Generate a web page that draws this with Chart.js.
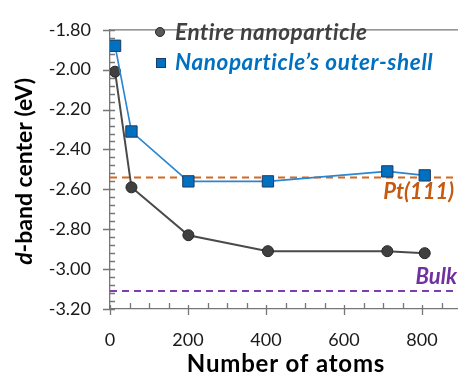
<!DOCTYPE html>
<html>
<head>
<meta charset="utf-8">
<script src="https://cdn.jsdelivr.net/npm/chart.js@4.4.1/dist/chart.umd.min.js"></script>
<style>
  html, body { margin: 0; padding: 0; background: #fff; overflow: hidden; }
  #wrap { width: 458px; height: 376px; overflow: hidden; }
</style>
</head>
<body>
<div id="wrap"><canvas id="dband" width="470" height="376"></canvas></div>
<script>
// cluster sizes and d-band centres (eV)
const atoms = [13, 55, 201, 405, 711, 807];
const entireNP = [-2.01, -2.59, -2.83, -2.91, -2.91, -2.92];
const outerShell = [-1.88, -2.31, -2.56, -2.56, -2.51, -2.53];
const pt111 = -2.54;
const bulk = -3.11;
const xTicks = [0, 200, 400, 600, 800];
const yTicks = [-3.2, -3.0, -2.8, -2.6, -2.4, -2.2, -2.0, -1.8];

const FONT = 'Lato, "Open Sans", sans-serif';
const axisColor = '#767676';
const grey = '#404040';
const blue = '#0070C0';
const orange = '#C55A11';
const purple = '#7030A0';

const pts = ys => atoms.map((a, i) => ({ x: a, y: ys[i] }));
const hline = y => [{ x: 0, y: y }, { x: 900, y: y }];

// tick marks, frame, legend, reference labels and axis titles
const decor = {
  id: 'decor',
  beforeDatasetsDraw(chart) {
    const { ctx, chartArea: a, scales: { x, y } } = chart;
    ctx.save();
    ctx.strokeStyle = axisColor;
    ctx.lineWidth = 1.3;
    ctx.beginPath();
    ctx.moveTo(a.left, a.top); ctx.lineTo(a.right + 10, a.top);
    for (let v = 0; v <= 900; v += 50) {
      const px = Math.round(x.getPixelForValue(v)) + 0.5;
      if (v % 200 === 0) { ctx.moveTo(px, a.bottom - 4); ctx.lineTo(px, a.bottom + 6); }
      else { ctx.moveTo(px, a.bottom - 6); ctx.lineTo(px, a.bottom); }
    }
    for (let k = 0; k <= 35; k++) {
      const v = -3.2 + k * 0.04;
      const py = Math.round(y.getPixelForValue(v)) + 0.5;
      if (k % 5 === 0) { ctx.moveTo(a.left - 7, py); ctx.lineTo(a.left + 5, py); }
      else { ctx.moveTo(a.left, py); ctx.lineTo(a.left + 5, py); }
    }
    ctx.stroke();
    ctx.restore();
  },
  afterDraw(chart) {
    const { ctx, chartArea: a } = chart;
    ctx.save();
    // legend
    ctx.font = `italic bold 22.5px ${FONT}`;
    ctx.letterSpacing = '0.6px';
    ctx.textBaseline = 'middle';
    ctx.textAlign = 'left';
    ctx.fillStyle = '#595959';
    ctx.strokeStyle = '#262626';
    ctx.lineWidth = 1;
    ctx.beginPath(); ctx.arc(160, 32, 4.5, 0, Math.PI * 2); ctx.fill(); ctx.stroke();
    ctx.fillStyle = grey;
    ctx.fillText('Entire nanoparticle', 175, 33);
    ctx.fillStyle = blue;
    ctx.strokeStyle = '#1F3A60';
    ctx.fillRect(156.5, 58.5, 9, 9); ctx.strokeRect(156.5, 58.5, 9, 9);
    ctx.fillText('Nanoparticle\u2019s outer-shell', 175, 63);
    // reference labels
    ctx.letterSpacing = '0px';
    ctx.font = `italic bold 22px ${FONT}`;
    ctx.textAlign = 'right';
    ctx.fillStyle = orange;
    ctx.fillText('Pt(111)', 454, 192);
    ctx.fillStyle = purple;
    ctx.fillText('Bulk', 457, 277);
    // x title
    ctx.fillStyle = '#000';
    ctx.textAlign = 'center';
    ctx.font = `bold 24px ${FONT}`;
    ctx.letterSpacing = '0.8px';
    ctx.fillText('Number of atoms', 286, 364);
    ctx.letterSpacing = '0px';
    // y title with italic d
    ctx.translate(25, (a.top + a.bottom) / 2 + 2);
    ctx.rotate(-Math.PI / 2);
    const fI = `italic bold 23px ${FONT}`, fB = `bold 23px ${FONT}`;
    ctx.font = fI; const w1 = ctx.measureText('d').width;
    ctx.font = fB; const w2 = ctx.measureText('-band center (eV)').width;
    ctx.textAlign = 'left';
    ctx.font = fI; ctx.fillText('d', -(w1 + w2) / 2, 0);
    ctx.font = fB; ctx.fillText('-band center (eV)', -(w1 + w2) / 2 + w1, 0);
    ctx.restore();
  }
};

new Chart(document.getElementById('dband'), {
  type: 'line',
  data: {
    datasets: [
      {
        label: 'Entire nanoparticle',
        data: pts(entireNP),
        borderColor: '#4a4a4a',
        borderWidth: 2,
        backgroundColor: grey,
        pointBackgroundColor: grey,
        pointBorderColor: '#262626',
        pointBorderWidth: 1,
        pointRadius: 5.5,
        pointStyle: 'circle',
        order: 1
      },
      {
        label: 'Nanoparticle\u2019s outer-shell',
        data: pts(outerShell),
        borderColor: '#2a86d0',
        borderWidth: 1.6,
        backgroundColor: blue,
        pointBackgroundColor: blue,
        pointBorderColor: '#1F3A60',
        pointBorderWidth: 1,
        pointRadius: 8,
        pointStyle: 'rect',
        order: 0
      },
      {
        label: 'Pt(111)',
        data: hline(pt111),
        borderColor: '#D2691E',
        borderWidth: 2,
        borderDash: [7, 5],
        pointRadius: 0,
        order: 5
      },
      {
        label: 'Bulk',
        data: hline(bulk),
        borderColor: '#7B3FB0',
        borderWidth: 2,
        borderDash: [7, 5],
        pointRadius: 0,
        order: 5
      }
    ]
  },
  options: {
    responsive: false,
    animation: false,
    layout: { padding: { left: 0, top: 22, right: 8, bottom: 0 } },
    plugins: { legend: { display: false }, tooltip: { enabled: false } },
    scales: {
      x: {
        type: 'linear',
        min: 0, max: 900,
        afterBuildTicks: s => { s.ticks = xTicks.map(v => ({ value: v })); },
        afterFit: s => { s.height = 67; },
        grid: { display: false, drawTicks: false },
        border: { display: true, color: axisColor, width: 1.3 },
        ticks: { padding: 20, color: '#1a1a1a', font: { family: FONT, size: 18 }, maxRotation: 0 }
      },
      y: {
        min: -3.2, max: -1.8,
        afterBuildTicks: s => { s.ticks = yTicks.map(v => ({ value: v })); },
        afterFit: s => { s.width = 110; },
        grid: { display: false, drawTicks: false },
        border: { display: true, color: axisColor, width: 1.3 },
        ticks: { padding: 19, color: '#1a1a1a', font: { family: FONT, size: 18 }, callback: v => v.toFixed(2) }
      }
    }
  },
  plugins: [decor]
});
</script>
</body>
</html>
